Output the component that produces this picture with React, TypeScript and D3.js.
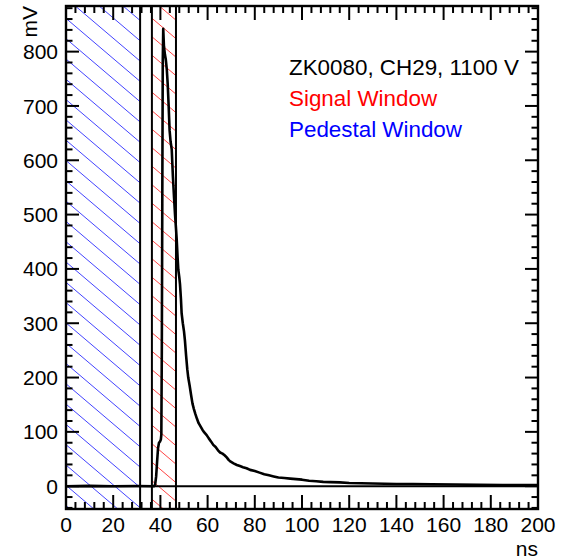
import React from 'react';
import * as d3 from 'd3';

const timeNs = [0, 10, 20, 30, 37.4, 37.8, 38.2, 38.6, 39.0, 39.4, 39.8, 40.2, 40.4, 40.6, 40.8, 41.0, 41.2, 41.5, 41.9, 42.3, 42.7, 43.1, 43.5, 43.9, 44.3, 44.8, 45.3, 45.8, 46.2, 46.6, 46.9, 47.3, 47.6, 48.0, 48.3, 48.7, 49.0, 49.5, 50.0, 50.4, 50.9, 51.4, 51.8, 52.4, 53.0, 53.6, 54.2, 54.8, 55.5, 56.2, 57.0, 57.8, 58.6, 59.6, 60.5, 61.5, 62.4, 63.4, 64.4, 65.3, 66.3, 67.2, 68.1, 69.0, 69.8, 71, 72.4, 73.7, 75, 76.5, 78, 80, 82, 84, 86, 88, 90, 92.5, 95, 97.5, 100, 103, 106, 109, 112, 116, 120, 125, 130, 135, 140, 147, 155, 165, 175, 185, 200];
const amplitudeMv = [0, 0.5, 0, 0.3, 0, 4, 18, 45, 70, 80, 82, 86, 95, 250, 520, 780, 842, 810, 795, 785, 768, 740, 700, 655, 635, 620, 570, 530, 500, 475, 455, 420, 398, 385, 372, 345, 318, 300, 285, 268, 240, 215, 200, 185, 168, 152, 142, 133, 124, 116, 110, 104, 99, 94, 88, 82, 76, 72, 66, 62, 60, 57, 53, 48, 45, 42, 39, 37, 35, 33, 30, 28, 25, 22, 20, 18, 16, 15, 14, 13, 12, 10, 9, 8, 7.5, 7, 6, 5.5, 5, 4.5, 4, 4, 3.5, 3, 2.5, 2, 2];

const xTickValues = d3.range(0, 201, 20);
const yTickValues = d3.range(0, 801, 100);
const pedestalWindow = [0, 31.4];
const signalWindow = [36.4, 46.6];
const windowLines = [31.4, 36.4, 46.6];
const legendLabels = ['ZK0080, CH29, 1100 V', 'Signal Window', 'Pedestal Window'];
const legendColors = ['#000000', '#ff0000', '#0000ff'];

const W = 566, H = 560;
const L = 66, R = 538, T = 6, B = 509;
const FONT = '"Liberation Sans", Arial, Helvetica, sans-serif';

function hatchLines(x0: number, x1: number, spacing: number, slope: number, phase: number) {
  const w = x1 - x0;
  const out: [number, number, number, number][] = [];
  const start = phase - Math.ceil((phase - (T - slope * w)) / spacing) * spacing;
  for (let c = start; c <= B + spacing; c += spacing) {
    out.push([x0, c, x1, c + slope * w]);
  }
  return out;
}

export default function App() {
  const x = d3.scaleLinear().domain([0, 200]).range([L, R]);
  const y = d3.scaleLinear().domain([-42, 884]).range([B, T]);
  const line = d3.line<number>().x((_, i) => x(timeNs[i])).y((d) => y(d));
  const xMinor = d3.range(0, 201, 4).filter((v) => v % 20 !== 0);
  const yMinor = d3.range(-40, 884, 20).filter((v) => v % 100 !== 0);
  const slope = 0.85;
  const blue = hatchLines(x(pedestalWindow[0]), x(pedestalWindow[1]), 20.3, slope, 282.3);
  const red = hatchLines(x(signalWindow[0]), x(signalWindow[1]), 18.5, slope, 36.7);

  return (
    <svg width={W} height={H} style={{ position: 'absolute', left: 0, top: 0, background: '#fff' }} fontFamily={FONT}>
      <defs>
        <clipPath id="clipPed">
          <rect x={x(pedestalWindow[0])} y={T} width={x(pedestalWindow[1]) - x(pedestalWindow[0])} height={B - T} />
        </clipPath>
        <clipPath id="clipSig">
          <rect x={x(signalWindow[0])} y={T} width={x(signalWindow[1]) - x(signalWindow[0])} height={B - T} />
        </clipPath>
        <clipPath id="clipPlot">
          <rect x={L} y={T} width={R - L} height={B - T} />
        </clipPath>
      </defs>
      <rect x={0} y={0} width={W} height={H} fill="#fff" />
      <g clipPath="url(#clipPed)">
        {blue.map((l, i) => (
          <line key={i} x1={l[0]} y1={l[1]} x2={l[2]} y2={l[3]} stroke="#4444ff" strokeWidth={1} />
        ))}
      </g>
      <g clipPath="url(#clipSig)">
        {red.map((l, i) => (
          <line key={i} x1={l[0]} y1={l[1]} x2={l[2]} y2={l[3]} stroke="#ff4444" strokeWidth={1} />
        ))}
      </g>
      {windowLines.map((v, i) => (
        <line key={i} x1={x(v)} x2={x(v)} y1={T} y2={B} stroke="#000" strokeWidth={2} />
      ))}
      <line x1={L} x2={R} y1={y(0)} y2={y(0)} stroke="#000" strokeWidth={2} />
      <path d={line(amplitudeMv) || ''} fill="none" stroke="#000" strokeWidth={2.6} strokeLinejoin="round" clipPath="url(#clipPlot)" />
      {xTickValues.map((v) => (
        <g key={'xt' + v}>
          <line x1={x(v)} x2={x(v)} y1={B} y2={B - 14} stroke="#000" strokeWidth={2} />
          <line x1={x(v)} x2={x(v)} y1={T} y2={T + 14} stroke="#000" strokeWidth={2} />
        </g>
      ))}
      {xMinor.map((v) => (
        <g key={'xm' + v}>
          <line x1={x(v)} x2={x(v)} y1={B} y2={B - 7} stroke="#000" strokeWidth={2} />
          <line x1={x(v)} x2={x(v)} y1={T} y2={T + 7} stroke="#000" strokeWidth={2} />
        </g>
      ))}
      {yTickValues.map((v) => (
        <g key={'yt' + v}>
          <line x1={L} x2={L + 13} y1={y(v)} y2={y(v)} stroke="#000" strokeWidth={2} />
          <line x1={R} x2={R - 13} y1={y(v)} y2={y(v)} stroke="#000" strokeWidth={2} />
        </g>
      ))}
      {yMinor.map((v) => (
        <g key={'ym' + v}>
          <line x1={L} x2={L + 6.5} y1={y(v)} y2={y(v)} stroke="#000" strokeWidth={2} />
          <line x1={R} x2={R - 6.5} y1={y(v)} y2={y(v)} stroke="#000" strokeWidth={2} />
        </g>
      ))}
      <rect x={L} y={T} width={R - L} height={B - T} fill="none" stroke="#000" strokeWidth={2.4} />
      {xTickValues.map((v) => (
        <text key={'xl' + v} x={x(v)} y={532} textAnchor="middle" fontSize={21}>{v}</text>
      ))}
      {yTickValues.map((v) => (
        <text key={'yl' + v} x={58} y={y(v)} dy="0.36em" textAnchor="end" fontSize={21}>{v}</text>
      ))}
      <text transform={`translate(37,${T}) rotate(-90)`} textAnchor="end" fontSize={21}>mV</text>
      <text x={R} y={556} textAnchor="end" fontSize={21}>ns</text>
      {legendLabels.map((s, i) => (
        <text key={s} x={289} y={75 + i * 31} fontSize={22.4} fill={legendColors[i]}>{s}</text>
      ))}
    </svg>
  );
}
